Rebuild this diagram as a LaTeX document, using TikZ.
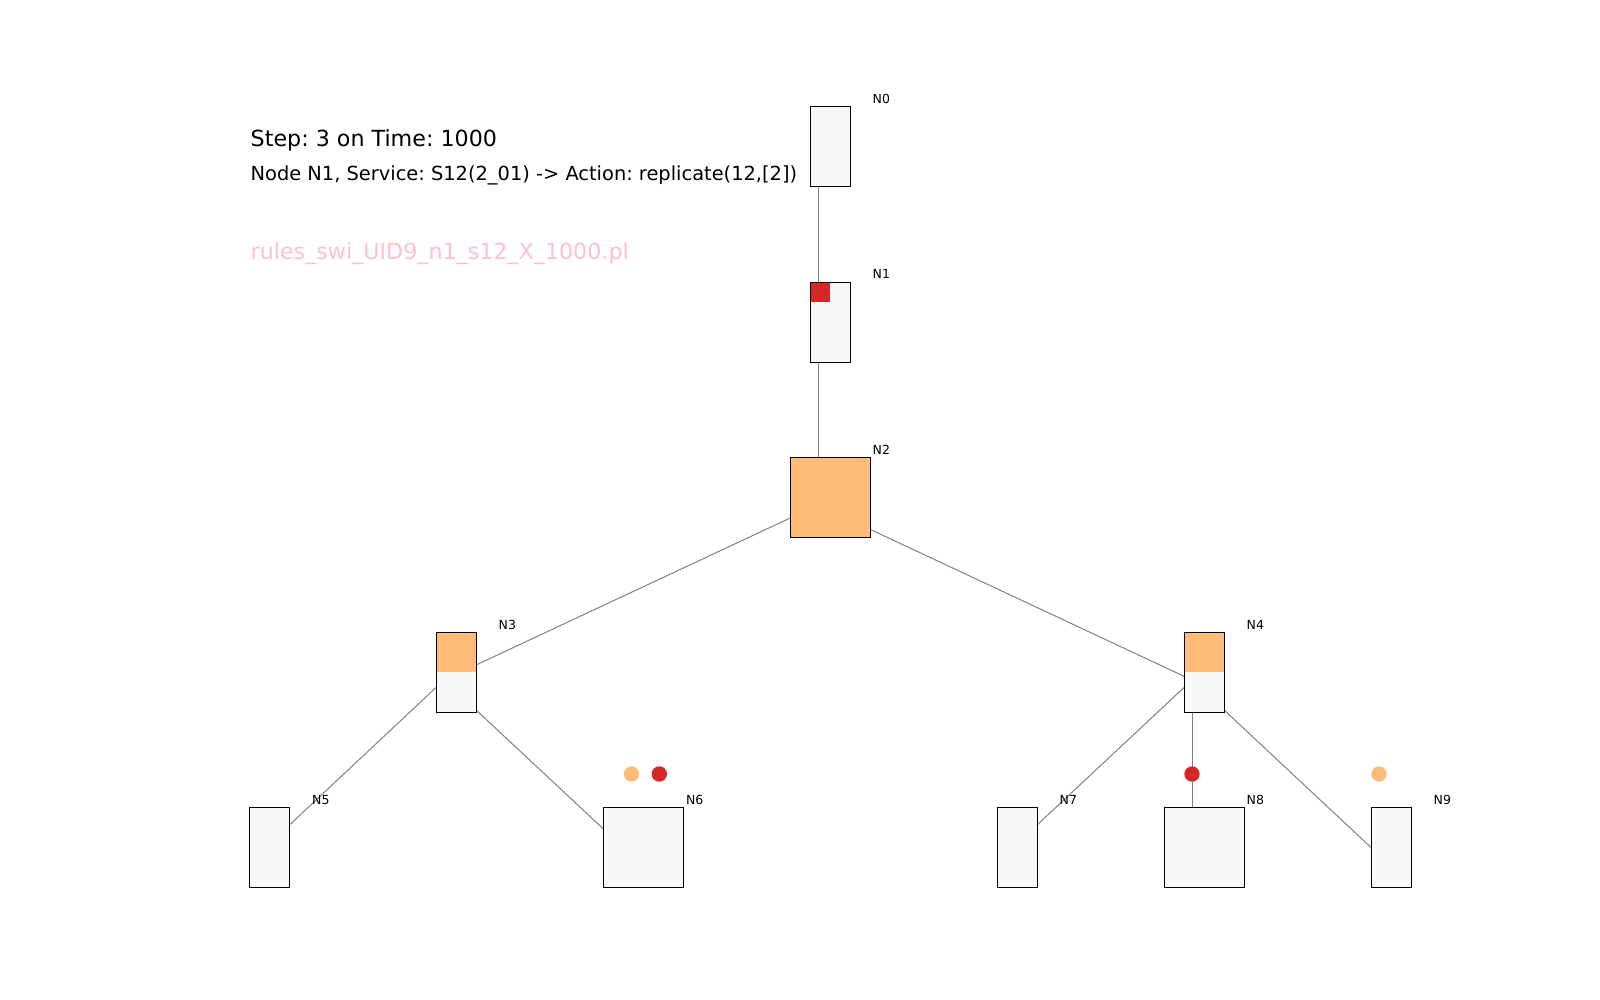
\documentclass[tikz,border=0pt]{standalone}
\usepackage{fontspec}
\setmainfont{DejaVu Sans}
\frenchspacing
\definecolor{svcorange}{HTML}{FFBB78}
\definecolor{svcred}{HTML}{D62728}
\definecolor{hostfill}{HTML}{F8F8F8}
\definecolor{linkgray}{HTML}{808080}
\definecolor{rulepink}{HTML}{FFC0CB}

\begin{document}
\begin{tikzpicture}[x=1pt,y=-1pt,
  host/.style={draw=black, line width=1pt, fill=hostfill, inner sep=0pt, minimum height=80pt},
  narrow/.style={host, minimum width=40pt},
  wide/.style={host, minimum width=80pt},
  tophalf/.style={path picture={\fill[svcorange] (path picture bounding box.north west) rectangle (path picture bounding box.east);}},
  corner/.style={path picture={\fill[svcred] (path picture bounding box.north west) rectangle ++(20,20);}},
  link/.style={draw=linkgray, line width=1pt},
  tag/.style={anchor=base west, inner sep=0pt, font=\fontsize{12.5}{15}\selectfont},
  headline/.style={anchor=base west, inner sep=0pt},
  svc/.style={circle, inner sep=0pt, minimum size=15.4pt}
]
\useasboundingbox (0,0) rectangle (1600,1000);

% anchor points of the hosts (links run between these)
\coordinate (p0) at (818,155);
\coordinate (p1) at (818,330);
\coordinate (p2) at (818,505);
\coordinate (p3) at (444,680);
\coordinate (p4) at (1192,680);
\coordinate (p5) at (257.5,855);
\coordinate (p6) at (631.3,855);
\coordinate (p7) at (1005,855);
\coordinate (p8) at (1192,855);
\coordinate (p9) at (1379,855);

% links
\draw[link] (p0) -- (p1);
\draw[link] (p1) -- (p2);
\draw[link] (p2) -- (p3);
\draw[link] (p2) -- (p4);
\draw[link] (p3) -- (p5);
\draw[link] (p3) -- (p6);
\draw[link] (p4) -- (p7);
\draw[link] (p4) -- (p8);
\draw[link] (p4) -- (p9);

% hosts
\node[narrow] (n0) at (830,147) {};
\node[narrow, corner] (n1) at (830,322) {};
\node[wide, fill=svcorange] (n2) at (830,497) {};
\node[narrow, tophalf] (n3) at (456,672) {};
\node[narrow, tophalf] (n4) at (1204,672) {};
\node[narrow] (n5) at (269.5,847) {};
\node[wide] (n6) at (643.3,847) {};
\node[narrow] (n7) at (1017,847) {};
\node[wide] (n8) at (1204,847) {};
\node[narrow] (n9) at (1391,847) {};

% host labels
\node[tag] (t0) at (872.5,104) {N0};
\node[tag] (t1) at (872.5,279) {N1};
\node[tag] (t2) at (872.5,454) {N2};
\node[tag] (t3) at (498.5,629) {N3};
\node[tag] (t4) at (1246.5,629) {N4};
\node[tag] (t5) at (312,804) {N5};
\node[tag] (t6) at (685.8,804) {N6};
\node[tag] (t7) at (1059.5,804) {N7};
\node[tag] (t8) at (1246.5,804) {N8};
\node[tag] (t9) at (1433.5,804) {N9};

% pending services
\node[svc, fill=svcorange] (s6a) at (631.5,774) {};
\node[svc, fill=svcred] (s6b) at (659.3,774) {};
\node[svc, fill=svcred] (s8) at (1192,774) {};
\node[svc, fill=svcorange] (s9) at (1379,774) {};

% header
\node[headline, font=\fontsize{22.2}{26}\selectfont] (title) at (250.5,147) {Step: 3 on Time: 1000};
\node[headline, font=\fontsize{19.4}{23}\selectfont] (action) at (250.5,180.6) {Node N1, Service: S12(2\_01) -> Action: replicate(12,[2])};
\node[headline, font=\fontsize{22.2}{26}\selectfont, text=rulepink] (rules) at (250.5,260) {rules\_swi\_UID9\_n1\_s12\_X\_1000.pl};
\end{tikzpicture}
\end{document}
